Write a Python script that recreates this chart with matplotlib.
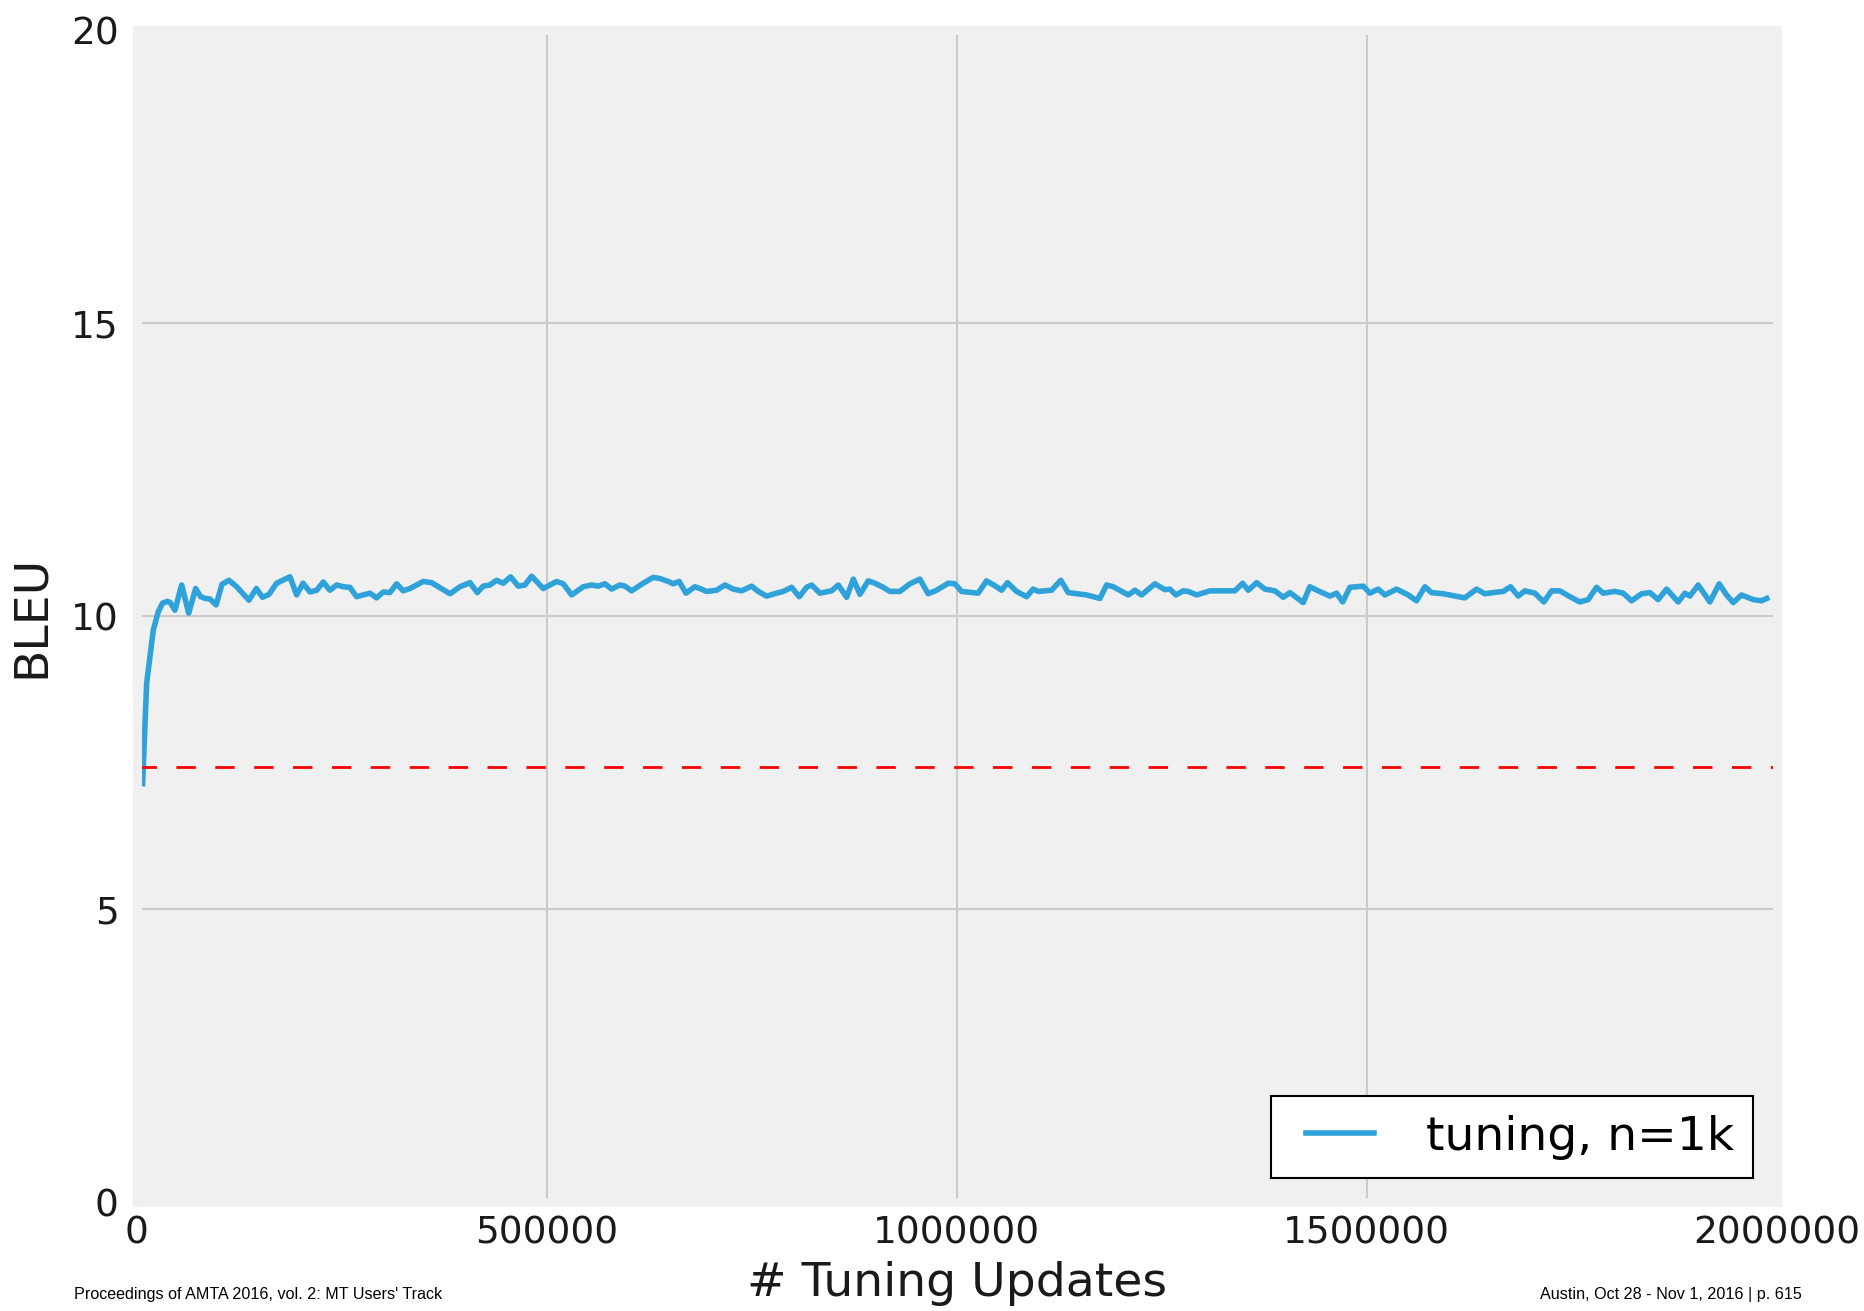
import matplotlib
matplotlib.use("Agg")
import matplotlib.pyplot as plt
from matplotlib.legend_handler import HandlerLine2D

# BLEU on the dev set, sampled along the tuning run
steps = [
    7300, 12200, 20300, 26300, 31500, 37500, 41000, 46700, 54900, 63500,
    72000, 78000, 84000, 89400, 97000, 104000, 112500, 122000, 137000, 146000,
    153500, 161500, 170700, 187000, 195100, 203000, 211300, 219500, 227600, 235700,
    243900, 252000, 260100, 268300, 284500, 292700, 300700, 308900, 317100, 325100,
    333300, 349500, 359700, 382100, 394300, 406500, 415400, 422700, 430800, 439000,
    447100, 456100, 465400, 473500, 481700, 495900, 512200, 520300, 530500, 544600,
    554900, 562900, 571100, 579300, 589400, 595500, 603600, 617800, 630000, 638200,
    648300, 654400, 661700, 669900, 680800, 686900, 695100, 707300, 717500, 727600,
    737800, 750000, 758100, 768300, 780500, 788500, 798800, 808100, 817100, 823100,
    833300, 847600, 855700, 865900, 874000, 882100, 892200, 900400, 910500, 918600,
    930800, 943000, 955200, 965300, 975600, 989800, 997900, 1006100, 1026300, 1036500,
    1048700, 1054800, 1062100, 1073100, 1085300, 1093400, 1099500, 1115800, 1127100, 1136100,
    1158500, 1174800, 1182900, 1191000, 1209300, 1217500, 1225600, 1241900, 1254100, 1260200,
    1267500, 1276400, 1282500, 1292700, 1308900, 1339400, 1348800, 1355700, 1365900, 1376000,
    1388200, 1398400, 1406500, 1422700, 1430800, 1441000, 1455300, 1463400, 1470800, 1479700,
    1496000, 1504000, 1514200, 1522300, 1536600, 1550700, 1560900, 1571100, 1579200, 1593400,
    1619800, 1634100, 1644200, 1654400, 1666600, 1675600, 1684900, 1693000, 1705200, 1716200,
    1725600, 1735700, 1747900, 1760100, 1770300, 1780400, 1788600, 1802800, 1812900, 1823100,
    1835300, 1845500, 1855600, 1865800, 1880000, 1888200, 1894300, 1904400, 1918700, 1930000,
    1939000, 1947100, 1957300, 1971500, 1981600, 1988000,
]
bleu = [
    7.14, 8.85, 9.76, 10.07, 10.22, 10.25, 10.23, 10.10, 10.53, 10.05,
    10.47, 10.33, 10.30, 10.29, 10.19, 10.54, 10.61, 10.50, 10.27, 10.47,
    10.32, 10.37, 10.56, 10.67, 10.36, 10.56, 10.41, 10.44, 10.58, 10.44,
    10.53, 10.50, 10.49, 10.33, 10.39, 10.31, 10.41, 10.40, 10.55, 10.43,
    10.47, 10.59, 10.57, 10.38, 10.50, 10.57, 10.40, 10.51, 10.53, 10.61,
    10.56, 10.67, 10.51, 10.53, 10.68, 10.47, 10.59, 10.55, 10.36, 10.50,
    10.53, 10.51, 10.55, 10.46, 10.53, 10.51, 10.43, 10.56, 10.66, 10.64,
    10.59, 10.55, 10.59, 10.39, 10.50, 10.47, 10.42, 10.44, 10.53, 10.46,
    10.43, 10.51, 10.42, 10.34, 10.39, 10.42, 10.49, 10.33, 10.49, 10.53,
    10.39, 10.43, 10.53, 10.32, 10.63, 10.37, 10.60, 10.56, 10.49, 10.42,
    10.42, 10.55, 10.63, 10.38, 10.44, 10.56, 10.55, 10.42, 10.39, 10.60,
    10.50, 10.44, 10.57, 10.42, 10.33, 10.46, 10.42, 10.44, 10.61, 10.40,
    10.36, 10.30, 10.53, 10.50, 10.36, 10.44, 10.36, 10.55, 10.45, 10.46,
    10.36, 10.43, 10.42, 10.36, 10.43, 10.43, 10.56, 10.44, 10.57, 10.46,
    10.43, 10.32, 10.40, 10.23, 10.50, 10.43, 10.34, 10.39, 10.24, 10.49,
    10.51, 10.39, 10.46, 10.36, 10.46, 10.36, 10.26, 10.50, 10.40, 10.38,
    10.31, 10.46, 10.38, 10.40, 10.42, 10.50, 10.34, 10.43, 10.39, 10.24,
    10.43, 10.43, 10.33, 10.24, 10.28, 10.49, 10.39, 10.42, 10.39, 10.26,
    10.38, 10.40, 10.28, 10.46, 10.24, 10.39, 10.34, 10.53, 10.24, 10.55,
    10.36, 10.23, 10.36, 10.28, 10.26, 10.30,
]
baseline_bleu = 7.43
series_label = "tuning, n=1k"

xticks = [0, 500000, 1000000, 1500000, 2000000]
yticks = [0, 5, 10, 15, 20]


class InsetLineHandler(HandlerLine2D):
    # legend line that leaves some blank room on its left
    def get_xdata(self, legend, xdescent, ydescent, width, height, fontsize):
        xdata, xmark = super().get_xdata(legend, xdescent, ydescent, width, height, fontsize)
        start = xdata[0] + 0.19 * width
        return [start, xdata[-1]], xmark


plt.rcParams["font.family"] = "DejaVu Sans"
plt.rcParams["lines.scale_dashes"] = False

fig = plt.figure(figsize=(18.64, 13.11), dpi=100)
ax = fig.add_axes([0.0733, 0.0831, 0.8798, 0.894])
ax.set_facecolor("#f0f0f0")
for sp in ax.spines.values():
    sp.set_color("#f0f0f0")
    sp.set_linewidth(6.5)

ax.grid(True, color="#cbcbcb", linewidth=1.5, linestyle="-")
ax.set_axisbelow(True)

line, = ax.plot(steps, bleu, color="#30a2da", linewidth=4.0, label=series_label)
ax.axhline(baseline_bleu, color="red", linewidth=2.0, linestyle=(0, (14, 14)))

ax.set_xlim(0, 2000000)
ax.set_ylim(0, 20)
ax.set_xticks(xticks)
ax.set_yticks(yticks)
ax.ticklabel_format(style="plain", useOffset=False)
ax.tick_params(axis="both", length=0, labelsize=27, colors="#1a1a1a")
ax.tick_params(axis="x", pad=10)
ax.tick_params(axis="y", pad=13)

ax.set_xlabel("# Tuning Updates", fontsize=34, color="#1a1a1a")
ax.xaxis.set_label_coords(0.5, -0.050)
ax.set_ylabel("BLEU", fontsize=34, labelpad=12, color="#1a1a1a")

leg = ax.legend(loc="lower right", fontsize=34, fancybox=False, framealpha=1,
                facecolor="white", edgecolor="black", handlelength=1.78,
                handletextpad=1.1, borderpad=0.4, borderaxespad=0.5,
                handler_map={line: InsetLineHandler()})
leg.get_frame().set_linewidth(1.5)

# page footer
fig.text(74 / 1864, 1 - 1294 / 1311, "Proceedings of AMTA 2016, vol. 2: MT Users' Track",
         family="Liberation Sans", fontsize=11.6, va="center", ha="left")
fig.text(1802 / 1864, 1 - 1294 / 1311, "Austin, Oct 28 - Nov 1, 2016 | p. 615",
         family="Liberation Sans", fontsize=11.6, va="center", ha="right")

fig.savefig("out.png", dpi=100, facecolor="white")
